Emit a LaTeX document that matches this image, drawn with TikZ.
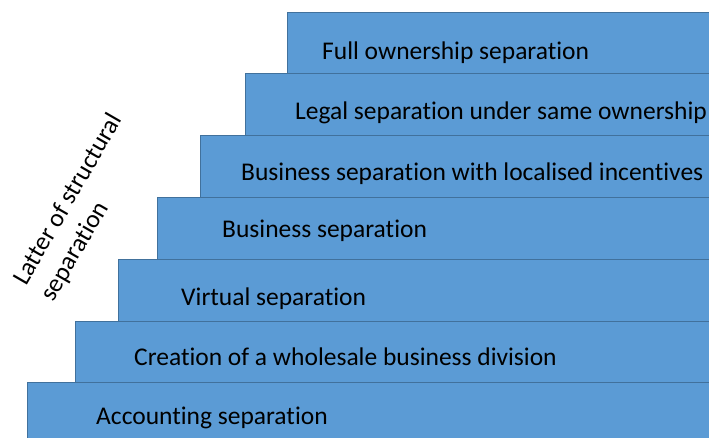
\documentclass[tikz,border=0pt]{standalone}
\usepackage{fontspec}
\setmainfont{Carlito}[Ligatures={NoCommon,NoRequired,NoContextual}]
\usepackage{xcolor}
\definecolor{stepblue}{HTML}{5B9BD5}
\definecolor{stepedge}{HTML}{41719C}

\begin{document}
\begin{tikzpicture}[x=1pt,y=-1pt,
    stepbox/.style={fill=stepblue, draw=stepedge, line width=0.8pt},
    steptext/.style={anchor=west, inner sep=0pt, text=black, font=\fontsize{25.5}{25.5}\selectfont}]
        % Fix the page size
        \useasboundingbox (0,0) rectangle (709,437);
        \clip (0,0) rectangle (709,437);

        % Draw the steps
        \draw[stepbox] (27,382) rectangle (730,460);
        \draw[stepbox] (75,321) rectangle (730,382);
        \draw[stepbox] (118,259) rectangle (730,321);
        \draw[stepbox] (157,197) rectangle (730,259);
        \draw[stepbox] (200,135) rectangle (730,197);
        \draw[stepbox] (245,73.5) rectangle (730,135);
        \draw[stepbox] (287,12) rectangle (730,73.5);

        % Step labels
        \node[steptext] (accounting) at (96,418) {Accounting separation};
        \node[steptext] (wholesale) at (134,357) {Creation of a wholesale business division};
        \node[steptext] (virtual) at (181,299) {Virtual separation};
        \node[steptext] (business) at (222,231) {Business separation};
        \node[steptext] (incentives) at (241,174) {Business separation with localised incentives};
        \node[steptext] (legal) at (295,113) {Legal separation under same ownership};
        \node[steptext] (full) at (322,53) {Full ownership separation};

        % Side label
        \node[align=left, rotate=60, anchor=west, inner sep=0pt, font=\fontsize{25.5}{32}\selectfont] (ladder) at (34,291.5) {Latter of structural\\separation};
\end{tikzpicture}
\end{document}
